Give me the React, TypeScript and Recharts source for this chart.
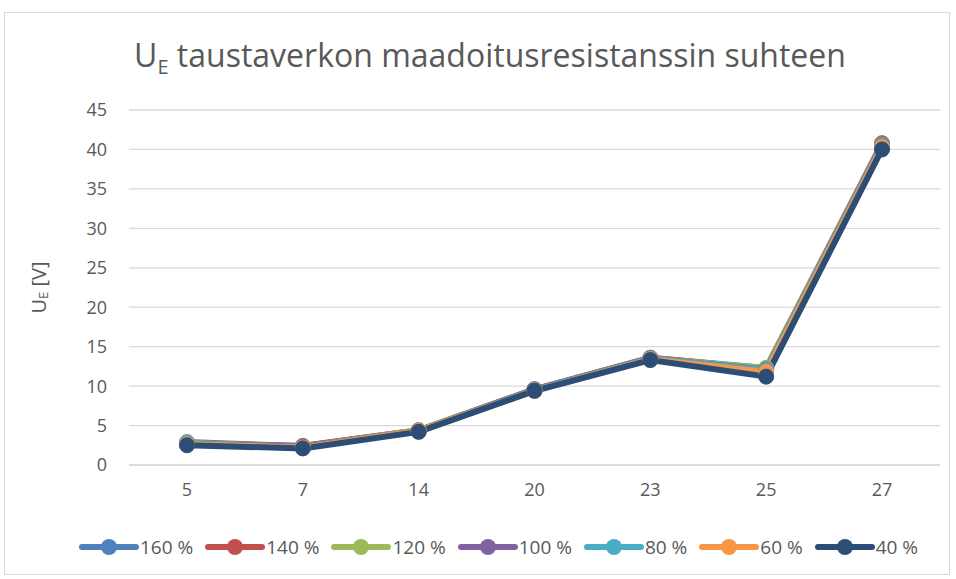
import React from "react";
import { CartesianGrid, Legend, Line, LineChart, XAxis, YAxis } from "recharts";

const categories = ["5", "7", "14", "20", "23", "25", "27"];
const seriesNames = ["160 %", "140 %", "120 %", "100 %", "80 %", "60 %", "40 %"];
const seriesColors = ["#4F81BD", "#C0504D", "#9BBB59", "#8064A2", "#4BACC6", "#F79646", "#2C4D75"];

const s160 = [2.9, 2.4, 4.4, 9.6, 13.6, 12.3, 40.8];
const s140 = [2.8, 2.4, 4.4, 9.6, 13.6, 12.2, 40.7];
const s120 = [2.8, 2.3, 4.4, 9.5, 13.5, 12.3, 40.6];
const s100 = [2.7, 2.3, 4.3, 9.5, 13.5, 12.1, 40.5];
const s80 = [2.7, 2.2, 4.3, 9.5, 13.5, 12.0, 40.4];
const s60 = [2.6, 2.2, 4.3, 9.4, 13.4, 11.8, 40.3];
const s40 = [2.5, 2.1, 4.2, 9.4, 13.3, 11.2, 40.0];

const seriesValues = [s160, s140, s120, s100, s80, s60, s40];
const yTicks = [0, 5, 10, 15, 20, 25, 30, 35, 40, 45];

const data = categories.map((c, i) => {
  const row: Record<string, any> = { name: c };
  seriesNames.forEach((n, k) => {
    row[n] = seriesValues[k][i];
  });
  return row;
});

const font = "'Open Sans', sans-serif";
const textColor = "#595959";
const gridColor = "#D9D9D9";

function LegendContent() {
  return (
    <div style={{ display: "flex", justifyContent: "center", alignItems: "center", height: 30 }}>
      {seriesNames.map((n, k) => (
        <div key={n} style={{ display: "flex", alignItems: "center", marginRight: 12 }}>
          <svg width={60} height={20}>
            <line x1={3} y1={10} x2={57} y2={10} stroke={seriesColors[k]} strokeWidth={6} strokeLinecap="round" />
            <circle cx={30} cy={10} r={8} fill={seriesColors[k]} />
          </svg>
          <span style={{ fontFamily: font, fontSize: 19, color: textColor, marginLeft: 1 }}>{n}</span>
        </div>
      ))}
    </div>
  );
}

function YLabel(props: any) {
  const vb = props.viewBox || {};
  const cx = 33;
  const cy = vb.y + vb.height / 2;
  return (
    <text
      x={cx}
      y={cy}
      transform={`rotate(-90 ${cx} ${cy})`}
      textAnchor="middle"
      dominantBaseline="central"
      fontFamily={font}
      fontSize={20}
      fill={textColor}
    >
      U<tspan fontSize={13} dy={5}>E</tspan>
      <tspan dy={-5}> [V]</tspan>
    </text>
  );
}

export default function App() {
  return (
    <div
      style={{
        position: "absolute",
        left: 4,
        top: 12,
        width: 946,
        height: 563,
        border: `1px solid ${gridColor}`,
        boxSizing: "border-box",
        background: "#fff",
      }}
    >
      <div
        style={{
          position: "absolute",
          left: 0,
          width: 970,
          top: 20,
          textAlign: "center",
          fontFamily: font,
          fontSize: 32,
          color: textColor,
          lineHeight: "44px",
          whiteSpace: "nowrap",
        }}
      >
        U<sub style={{ fontSize: 20, verticalAlign: "-7px" }}>E</sub> taustaverkon maadoitusresistanssin suhteen
      </div>
      <LineChart
        width={944}
        height={561}
        data={data}
        margin={{ top: 97, right: 9, bottom: 12, left: 64 }}
      >
        <CartesianGrid vertical={false} stroke={gridColor} strokeWidth={1.3} />
        <XAxis
          dataKey="name"
          height={67}
          tickSize={0}
          tickMargin={18}
          padding={{ left: 58, right: 58 }}
          axisLine={{ stroke: gridColor, strokeWidth: 1.3 }}
          tick={{ fontFamily: font, fontSize: 18, fill: textColor }}
        />
        <YAxis
          width={60}
          domain={[0, 45]}
          ticks={yTicks}
          interval={0}
          tickSize={0}
          tickMargin={22}
          axisLine={false}
          tick={{ fontFamily: font, fontSize: 18, fill: textColor }}
          label={<YLabel />}
        />
        <Legend verticalAlign="bottom" content={<LegendContent />} />
        {seriesNames.map((n, k) => (
          <Line
            key={n}
            dataKey={n}
            stroke={seriesColors[k]}
            strokeWidth={6}
            dot={{ r: 7.5, fill: seriesColors[k], stroke: seriesColors[k], strokeWidth: 1 }}
            isAnimationActive={false}
          />
        ))}
      </LineChart>
    </div>
  );
}
